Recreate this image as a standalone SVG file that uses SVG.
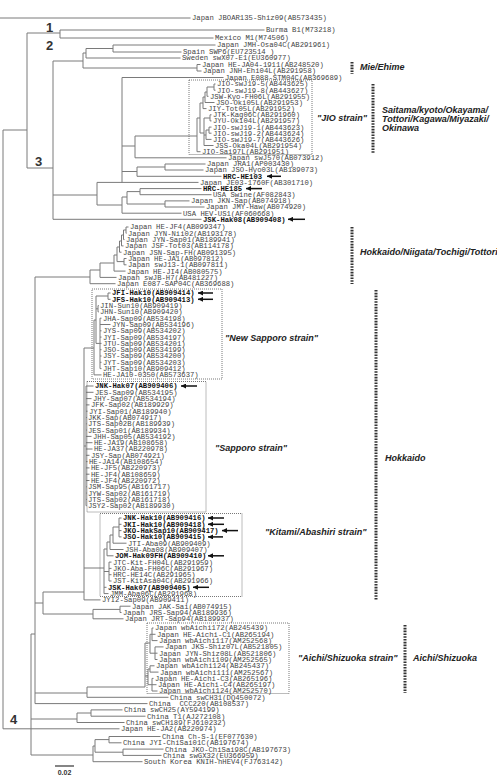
<svg xmlns="http://www.w3.org/2000/svg" width="497" height="776" viewBox="0 0 497 776">
<defs>
<style>
.t{font-family:"Liberation Mono","Courier New",monospace;font-size:7.25px;fill:#444}
.b{font-weight:bold;fill:#111}
.br{stroke:#7a7a7a;stroke-width:1;fill:none}
.box{stroke:#555;stroke-width:0.8;stroke-dasharray:1 1;fill:none}
.bar{stroke:#333;stroke-width:3;stroke-dasharray:1.6 1.2;fill:none}
.ann{font-family:"Liberation Sans",Arial,sans-serif;font-size:9px;font-weight:bold;font-style:italic;fill:#222}
.num{font-family:"Liberation Sans",Arial,sans-serif;font-size:13px;font-weight:bold;fill:#333}
.arr{stroke:#111;stroke-width:1.5;fill:none;marker-start:url(#ah)}
</style>
<marker id="ah" viewBox="0 0 10 10" refX="0" refY="5" markerWidth="6" markerHeight="5" markerUnits="userSpaceOnUse" orient="auto"><path d="M0 5L10 0L10 10z" fill="#111"/></marker>
</defs>
<rect width="497" height="776" fill="#fff"/>

<g id="connectors" class="br">
<path d="M0 18H190.5 M3 130V728.8 M3 130H27 M27 33V168 M27 33H60 M60 30V38 M60 30H264.5 M60 38H213.5
M27 168H53 M53 61V219.3 M53 61H83 M83 53V68 M83 53H86 M86 48.5V58 M86 58H180.5 M86 48.5H113 M113 45V52 M113 45H215.5 M113 52H181.5
M83 68H197 M197 64.5V71 M197 64.5H200.5 M197 71H201.5
M53 195H97 M97 182.4V205 M97 182.4H198.5 M122 77.5V182.4 M122 77.5H223.5
M122 146H135 M135 136V157.8 M135 157.8H226.5 M135 136H197 M197 118V151.7 M197 151.7H200.5
M197 118H200 M200 103V133 M200 103H203 M203 97V108.6 M203 108.6H206.5 M203 97H205 M205 92V102.5 M205 102.5H214.5 M205 92H207 M207 87V96.3 M207 96.3H208.5 M207 87H214 M214 84V90.2 M214 84H215.5 M214 90.2H215.5
M200 133H204 M204 118V145.5 M204 145.5H213.5 M204 118H210 M210 114.8V120.9 M210 114.8H211.5 M210 120.9H211.5 M204 135H206 M206 130V139.4 M206 139.4H211.5 M206 130H209 M209 127.1V133.2 M209 127.1H211.5 M209 133.2H211.5
M122 171.5H137 M137 167V176.3 M137 176.3H221.5 M137 167H165 M165 164V170 M165 164H205.5 M165 170H203.5
M97 205H122 M122 197V213.2 M122 213.2H181.5 M122 197H127 M127 191.6V204 M127 191.6H140 M140 188.6V194.7 M140 188.6H201.5 M140 194.7H211.5 M127 204H165 M165 200.9V207 M165 200.9H189.5 M165 207H204.5
M53 219.3H201.5"/>
<path d="M3 728.8H119.5 M31 634V755 M31 634H35 M35 277V703.6 M35 703.6H147.5
M35 277H90 M90 270V283.7 M90 283.7H115.5 M90 270H100 M100 263V277.4 M100 277.4H116.5 M100 263H114 M114 255V271.1 M114 271.1H125.5 M114 255H117 M117 247V261.6
M117 261.6H124 M124 258.5V264.8 M124 258.5H126.5 M124 264.8H126.5 M117 247H119.5 M119.5 241V252.2 M119.5 252.2H121.5 M119.5 241H121.5 M121.5 235V245.9 M121.5 245.9H123.5 M121.5 235H123.5 M123.5 230V239.6 M123.5 239.6H124.5 M123.5 230H126 M126 227V233.3 M126 227H128.5 M126 233.3H126.5
M35 603H43 M43 592V614 M43 614H93 M93 609.4V618.8 M93 618.8H123.5 M93 609.4H120 M120 606.2V612.5 M120 606.2H130.5 M120 612.5H121.5
M43 592H84 M84 348V599.9 M84 599.9H100.5
M84 348H94 M94 320V374.9 M94 374.9H101.5 M94 320H96 M96 296V343.4 M96 296H108 M108 293V299.3 M108 293H110.5 M108 299.3H110.5 M96 308.8H98 M98 305.6V311.9 M98 305.6H98.8 M98 311.9H98.8
M96 343.4H100 M100 318.2V368.6 M100 318.2H101.5 M100 324.5H110.5 M100 330.8H101.5 M100 337.1H101.5 M100 343.4H101.5 M100 349.7H101.5 M100 356H101.5 M100 362.3H101.5 M100 368.6H101.5
M84 446H86 M86 386V505.7 M86 386H93.5 M86 392.3H93.5 M86 398.6H91.5 M86 404.9H89.5 M86 411.2H87.5 M86 417.5H86.8 M86 423.8H86.8 M86 430.1H86.8 M86 436.4H91.5 M86 442.7H92.5 M86 449H92.5 M86 455.3H89.5 M86 461.6H87.5 M86 467.9H89.5 M86 474.2H89.5 M86 480.5H89.5 M86 486.8H86.8 M86 493.1H86.8 M86 499.4H86.8 M86 505.7H86.8
M84 568H104 M104 549V593.6 M104 587.3H106.5 M104 593.6H108.5 M104 549H107 M107 542V555.8 M107 555.8H113.5 M107 542H110 M110 535V549.5 M110 549.5H123.5 M110 535H113 M113 527V543.2 M113 543.2H126.5 M113 527H119 M119 518V536.9 M119 518H121.5 M119 524.3H121.5 M119 530.6H121.5 M119 536.9H121.5
M104 571.5H109 M109 562.1V581 M109 562.1H111.5 M109 568.4H111.5 M109 574.7H111.5 M109 581H111.5
M35 693H87 M87 687V697.3 M87 697.3H168.5 M87 687H145 M145 643V687 M145 643H150 M150 634.3V653.2 M150 634.3H152 M152 628V640.6 M152 628H153.5 M152 634.3H155.5 M152 640.6H157.5
M150 653.2H155 M155 646.9V659.5 M155 646.9H163.5 M155 653.2H157.5 M155 659.5H157.5
M145 676H148 M148 669V684.7 M148 669H150 M150 665.8V672.1 M150 665.8H154.5 M150 672.1H158.5 M148 684.7H152 M152 678.4V691 M152 678.4H153.5 M152 684.7H156.5 M152 691H157.5
M31 719H77 M77 713V722.5 M77 722.5H124.5 M77 713H91 M91 709.9V716.2 M91 709.9H122.5 M91 716.2H145.5
M31 755H93 M93 746V761.7 M93 761.7H142.5 M93 746H95 M95 739.6V752.2 M95 739.6H109 M109 736.5V742.8 M109 736.5H160.5 M109 742.8H121.5 M95 752.2H123 M123 749.1V755.4 M123 749.1H163.5 M123 755.4H161.5"/>
</g>

<g id="boxes">
<rect class="box" x="189" y="80" width="123" height="74.5"/>
<rect class="box" x="92" y="289" width="130" height="90"/>
<rect class="box" x="87" y="381.5" width="119" height="130.5"/>
<rect class="box" x="100" y="513.5" width="142" height="83"/>
<rect class="box" x="147" y="623" width="142" height="70.5"/>
</g>

<g id="arrows">
<path class="arr" d="M267 176.3H281"/>
<path class="arr" d="M246 188.6H262"/>
<path class="arr" d="M288 219.3H305"/>
<path class="arr" d="M198 293H213"/>
<path class="arr" d="M198 299.3H213"/>
<path class="arr" d="M181 386H197"/>
<path class="arr" d="M208 518H224"/>
<path class="arr" d="M208 524.3H224"/>
<path class="arr" d="M222 530.6H238"/>
<path class="arr" d="M208 536.9H223"/>
<path class="arr" d="M208 555.8H224"/>
<path class="arr" d="M193 587.3H209"/>
</g>

<g id="genotypes">
<text class="num" x="46" y="32">1</text>
<text class="num" x="46" y="50">2</text>
<text class="num" x="35" y="166">3</text>
<text class="num" x="10" y="724">4</text>
</g>

<g id="scale">
<path d="M55 766H74" stroke="#333" stroke-width="1.2"/>
<text x="64.5" y="775" text-anchor="middle" style="font-family:'Liberation Sans',Arial,sans-serif;font-size:7px;font-weight:bold;fill:#333">0.02</text>
</g>

<g id="annotations">
<path class="bar" d="M352 62V74"/>
<text class="ann" x="360" y="70">Mie/Ehime</text>
<path class="bar" d="M373 84V153"/>
<text class="ann" x="382" y="113">Saitama/kyoto/Okayama/</text>
<text class="ann" x="382" y="122">Tottori/Kagawa/Miyazaki/</text>
<text class="ann" x="382" y="131">Okinawa</text>
<text class="ann" x="317" y="121">"JIO strain"</text>
<path class="bar" d="M352 227V284"/>
<text class="ann" x="360" y="255">Hokkaido/Niigata/Tochigi/Tottori</text>
<path class="bar" d="M376 290V600"/>
<text class="ann" x="385" y="461">Hokkaido</text>
<text class="ann" x="225" y="341">"New Sapporo strain"</text>
<text class="ann" x="215" y="451">"Sapporo strain"</text>
<text class="ann" x="265" y="535">"Kitami/Abashiri strain"</text>
<path class="bar" d="M405 625V693"/>
<text class="ann" x="413" y="661">Aichi/Shizuoka</text>
<text class="ann" x="298" y="661">"Aichi/Shizuoka strain"</text>
</g>

<g id="leaves" class="t">
<g id="L01"><text x="192" y="20.4">Japan JBOAR135-Shiz09(AB573435)</text></g>
<g id="L02"><text x="266" y="32.4">Burma B1(M73218)</text></g>
<g id="L03"><text x="215" y="40.4">Mexico M1(M74506)</text></g>
<g id="L04"><text x="217" y="47.4">Japan JMH-Osa04C(AB291961)</text></g>
<g id="L05"><text x="183" y="54.4">Spain SWP6(EU723514 )</text></g>
<g id="L06"><text x="182" y="60.4">Sweden swX07-E1(EU360977)</text></g>
<g id="L07"><text x="202" y="66.9">Japan HE-JA04-1911(AB248520)</text></g>
<g id="L08"><text x="203" y="73.4">Japan JNH-Ehi04L(AB291958)</text></g>
<g id="L09"><text x="225" y="79.9">Japan E088-STM04C(AB369689)</text></g>
<g id="L10"><text x="217" y="86.4">JIO-swJ19-5(AB443625)</text></g>
<g id="L11"><text x="217" y="92.6">JIO-swJ19-8(AB443627)</text></g>
<g id="L12"><text x="210" y="98.7">JSW-Kyo-FH06L(AB291955)</text></g>
<g id="L13"><text x="216" y="104.9">JSO-Oki05L(AB291953)</text></g>
<g id="L14"><text x="208" y="111">JIY-Tot05L(AB291952)</text></g>
<g id="L15"><text x="213" y="117.2">JTK-Kag06C(AB291960)</text></g>
<g id="L16"><text x="213" y="123.3">JYU-Oki04L(AB291957)</text></g>
<g id="L17"><text x="213" y="129.5">JIO-swJ19-1(AB443623)</text></g>
<g id="L18"><text x="213" y="135.6">JIO-swJ19-2(AB443624)</text></g>
<g id="L19"><text x="213" y="141.8">JIO-swJ19-7(AB443626)</text></g>
<g id="L20"><text x="215" y="147.9">JSS-Oka04L(AB291954)</text></g>
<g id="L21"><text x="202" y="154.1">JIO-Sai97L(AB291951)</text></g>
<g id="L22"><text x="228" y="160.2">Japan swJ570(AB073912)</text></g>
<g id="L23"><text x="207" y="166.4">Japan JRA1(AP003430)</text></g>
<g id="L24"><text x="205" y="172.4">Japan JSO-Hyo03L(AB189073)</text></g>
<g id="L25"><text class="b" x="223" y="178.7">HRC-HE103</text></g>
<g id="L26"><text x="200" y="184.8">Japan JE03-1760F(AB301710)</text></g>
<g id="L27"><text class="b" x="203" y="191">HRC-HE185</text></g>
<g id="L28"><text x="213" y="197.1">USA Swine(AF082843)</text></g>
<g id="L29"><text x="191" y="203.3">Japan JKN-Sap(AB074918)</text></g>
<g id="L30"><text x="206" y="209.4">Japan JMY-Haw(AB074920)</text></g>
<g id="L31"><text x="183" y="215.6">USA HEV-US1(AF060668)</text></g>
<g id="L32"><text class="b" x="203" y="221.7">JSK-Hak08(AB909408)</text></g>
<g id="L33"><text x="130" y="229.4">Japan HE-JF4(AB099347)</text></g>
<g id="L34"><text x="128" y="235.7">Japan JYN-Nii02(AB193178)</text></g>
<g id="L35"><text x="126" y="242">Japan JYN-Sap01(AB189941)</text></g>
<g id="L36"><text x="125" y="248.3">Japan JSF-Tot03(AB114178)</text></g>
<g id="L37"><text x="123" y="254.6">Japan JSN-Sap-FH(AB091395)</text></g>
<g id="L38"><text x="128" y="260.9">Japan HE-JA1(AB097812)</text></g>
<g id="L39"><text x="128" y="267.2">Japan swJ13-1(AB097811)</text></g>
<g id="L40"><text x="127" y="273.5">Japan HE-JI4(AB080575)</text></g>
<g id="L41"><text x="118" y="279.8">Japan swJB-H7(AB481227)</text></g>
<g id="L42"><text x="117" y="286.1">Japan E087-SAP04C(AB369688)</text></g>
<g id="L43"><text class="b" x="112" y="295.4">JFI-Hak10(AB909414)</text></g>
<g id="L44"><text class="b" x="112" y="301.7">JFS-Hak10(AB909413)</text></g>
<g id="L45"><text x="100" y="308">JIN-Sun10(AB909419)</text></g>
<g id="L46"><text x="100" y="314.3">JHN-Sun10(AB909420)</text></g>
<g id="L47"><text x="103" y="320.6">JHA-Sap09(AB534198)</text></g>
<g id="L48"><text x="112" y="326.9">JYN-Sap09(AB534196)</text></g>
<g id="L49"><text x="103" y="333.2">JYS-Sap09(AB534202)</text></g>
<g id="L50"><text x="103" y="339.5">JYI-Sap09(AB534197)</text></g>
<g id="L51"><text x="103" y="345.8">JTU-Sap09(AB534201)</text></g>
<g id="L52"><text x="103" y="352.1">JSO-Sap09(AB534199)</text></g>
<g id="L53"><text x="103" y="358.4">JSY-Sap09(AB534200)</text></g>
<g id="L54"><text x="103" y="364.7">JYT-Sap09(AB534203)</text></g>
<g id="L55"><text x="103" y="371">JHT-Sap10(AB909412)</text></g>
<g id="L56"><text x="103" y="377.3">HE-JA10-0350(AB573637)</text></g>
<g id="L57"><text class="b" x="95" y="388.4">JNK-Hak07(AB909406)</text></g>
<g id="L58"><text x="95" y="394.7">JES-Sap09(AB534195)</text></g>
<g id="L59"><text x="93" y="401">JHY-Sap07(AB534194)</text></g>
<g id="L60"><text x="91" y="407.3">JFK-Sap02(AB189929)</text></g>
<g id="L61"><text x="89" y="413.6">JYI-Sap01(AB189940)</text></g>
<g id="L62"><text x="88" y="419.9">JKK-Sap(AB074917)</text></g>
<g id="L63"><text x="88" y="426.2">JTS-Sap02B(AB189939)</text></g>
<g id="L64"><text x="88" y="432.5">JES-Sap01(AB189934)</text></g>
<g id="L65"><text x="93" y="438.8">JHH-Sap05(AB534192)</text></g>
<g id="L66"><text x="94" y="445.1">HE-JA19(AB108658)</text></g>
<g id="L67"><text x="94" y="451.4">HE-JA37(AB220978)</text></g>
<g id="L68"><text x="91" y="457.7">JSY-Sap(AB074921)</text></g>
<g id="L69"><text x="89" y="464">HE-JA14(AB108654)</text></g>
<g id="L70"><text x="91" y="470.3">HE-JF5(AB220973)</text></g>
<g id="L71"><text x="91" y="476.6">HE-JF4(AB108659)</text></g>
<g id="L72"><text x="91" y="482.9">HE-JF4(AB220972)</text></g>
<g id="L73"><text x="88" y="489.2">JSM-Sap95(AB161717)</text></g>
<g id="L74"><text x="88" y="495.5">JYW-Sap02(AB161719)</text></g>
<g id="L75"><text x="88" y="501.8">JTS-Sap02(AB161718)</text></g>
<g id="L76"><text x="88" y="508.1">JSY2-Sap02(AB189930)</text></g>
<g id="L77"><text class="b" x="123" y="520.4">JNK-Hak10(AB909416)</text></g>
<g id="L78"><text class="b" x="123" y="526.7">JKI-Hak10(AB909418)</text></g>
<g id="L79"><text class="b" x="123" y="533">JKO-HakSap10(AB909417)</text></g>
<g id="L80"><text class="b" x="123" y="539.3">JSO-Hak10(AB909415)</text></g>
<g id="L81"><text x="128" y="545.6">JTI-Aba09(AB909409)</text></g>
<g id="L82"><text x="125" y="551.9">JSH-Aba08(AB909407)</text></g>
<g id="L83"><text class="b" x="115" y="558.2">JOM-Hak09FH(AB909410)</text></g>
<g id="L84"><text x="113" y="564.5">JTC-Kit-FH04L(AB291959)</text></g>
<g id="L85"><text x="113" y="570.8">JKO-Aba-FH06C(AB291967)</text></g>
<g id="L86"><text x="113" y="577.1">HRC-HE14C(AB291965)</text></g>
<g id="L87"><text x="113" y="583.4">JST-KitAsa04C(AB291966)</text></g>
<g id="L88"><text class="b" x="108" y="589.7">JSK-Hak07(AB909405)</text></g>
<g id="L89"><text x="110" y="596">JMM-Aba06C(AB291968)</text></g>
<g id="L90"><text x="102" y="602.3">JYI2-Sap09(AB909411)</text></g>
<g id="L91"><text x="132" y="608.6">Japan JAK-Sai(AB074915)</text></g>
<g id="L92"><text x="123" y="614.9">Japan JRS-Sap94(AB189936)</text></g>
<g id="L93"><text x="125" y="621.2">Japan JRT-Sap94(AB189937)</text></g>
<g id="L94"><text x="155" y="630.4">Japan wbAichi172(AB245439)</text></g>
<g id="L95"><text x="157" y="636.7">Japan HE-Aichi-C1(AB265194)</text></g>
<g id="L96"><text x="159" y="643">Japan wbAichi117(AM252568)</text></g>
<g id="L97"><text x="165" y="649.3">Japan JKS-Shiz07L(AB521805)</text></g>
<g id="L98"><text x="159" y="655.6">Japan JYN-Shiz08L(AB521806)</text></g>
<g id="L99"><text x="159" y="661.9">Japan wbAichi109(AM252565)</text></g>
<g id="L100"><text x="156" y="668.2">Japan wbAichi124(AB245437)</text></g>
<g id="L101"><text x="160" y="674.5">Japan wbAichi111(AM252567)</text></g>
<g id="L102"><text x="155" y="680.8">Japan HE-Aichi-C3(AB265196)</text></g>
<g id="L103"><text x="158" y="687.1">Japan HE-Aichi-C4(AB265197)</text></g>
<g id="L104"><text x="159" y="693.4">Japan wbAichi124(AM252570)</text></g>
<g id="L105"><text x="170" y="699.7">China swCH31(DQ450072)</text></g>
<g id="L106"><text x="149" y="706">China&#160;&#160;CCC220(AB108537)</text></g>
<g id="L107"><text x="124" y="712.3">China swCH25(AY594199)</text></g>
<g id="L108"><text x="147" y="718.6">China T1(AJ272108)</text></g>
<g id="L109"><text x="126" y="724.9">China swCH189(FJ610232)</text></g>
<g id="L110"><text x="121" y="731.2">Japan HE-JA2(AB220974)</text></g>
<g id="L111"><text x="162" y="738.9">China Ch-S-1(EF077630)</text></g>
<g id="L112"><text x="123" y="745.2">China JYI-ChiSai01C(AB197674)</text></g>
<g id="L113"><text x="165" y="751.5">China JKO-ChiSai98C(AB197673)</text></g>
<g id="L114"><text x="163" y="757.8">China swGX32(EU366959)</text></g>
<g id="L115"><text x="144" y="764.1">South Korea KNIH-hHEV4(FJ763142)</text></g>
</g>
</svg>
